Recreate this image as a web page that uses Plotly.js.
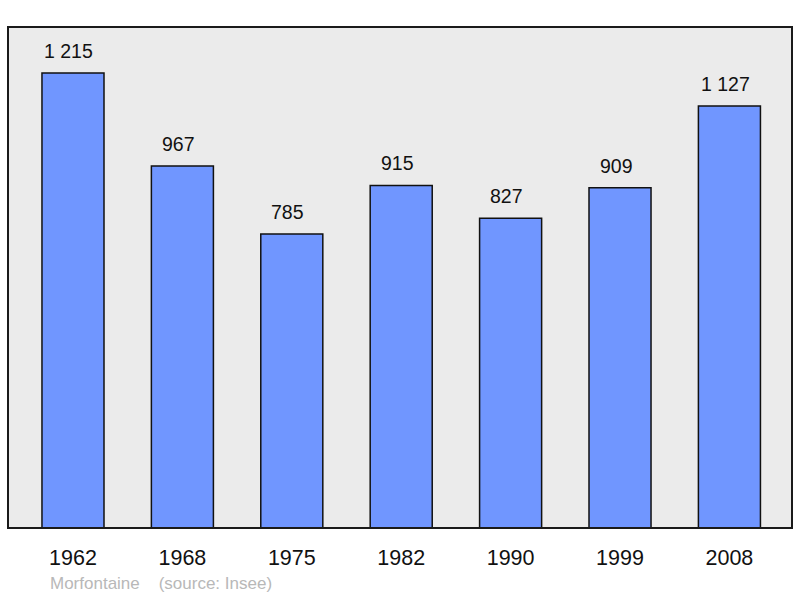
<!DOCTYPE html>
<html>
<head>
<meta charset="utf-8">
<script src="https://cdn.plot.ly/plotly-3.0.1.min.js"></script>
<style>html,body{margin:0;padding:0;background:#fff;}#chart{width:800px;height:598px;}</style>
</head>
<body>
<div id="chart"></div>
<script>
const years = ["1962", "1968", "1975", "1982", "1990", "1999", "2008"];
const population = [1215, 967, 785, 915, 827, 909, 1127];
const valueLabels = ["1 215", "967", "785", "915", "827", "909", "1 127"];
const footerText = "Morfontaine    (source: Insee)";

const trace = {
  type: "bar",
  x: years,
  y: population,
  width: 0.567,
  marker: {color: "#7096ff", line: {color: "#111", width: 1.5}},
  hoverinfo: "none"
};

const annotations = years.map((yr, i) => ({
  x: i, y: population[i], xref: "x", yref: "y",
  text: valueLabels[i], showarrow: false,
  yanchor: "middle", yshift: 22, xshift: -4,
  font: {family: "Liberation Sans, Arial, sans-serif", size: 19.5, color: "#111"}
}));
annotations.push({
  xref: "paper", yref: "paper", x: 0.0505, y: -0.111,
  xanchor: "left", yanchor: "middle", showarrow: false,
  text: footerText,
  font: {family: "Liberation Sans, Arial, sans-serif", size: 17, color: "#b8b8b8"}
});

const layout = {
  width: 800, height: 598,
  margin: {l: 8, r: 8, t: 27, b: 70, pad: 0},
  paper_bgcolor: "#ffffff",
  plot_bgcolor: "#ebebeb",
  showlegend: false,
  xaxis: {
    type: "category",
    range: [-0.594, 6.572],
    showgrid: false, zeroline: false, showline: false,
    ticks: "", ticklabelstandoff: 14,
    tickfont: {family: "Liberation Sans, Arial, sans-serif", size: 21.5, color: "#111"}
  },
  yaxis: {
    range: [0, 1338],
    showgrid: false, zeroline: false, showline: false,
    showticklabels: false, ticks: ""
  },
  shapes: [{
    type: "rect", xref: "paper", yref: "paper",
    x0: 0, x1: 1, y0: 0, y1: 1,
    line: {color: "#1a1a1a", width: 2}, layer: "above"
  }],
  annotations: annotations
};

Plotly.newPlot("chart", [trace], layout, {staticPlot: true, displayModeBar: false});
</script>
</body>
</html>
